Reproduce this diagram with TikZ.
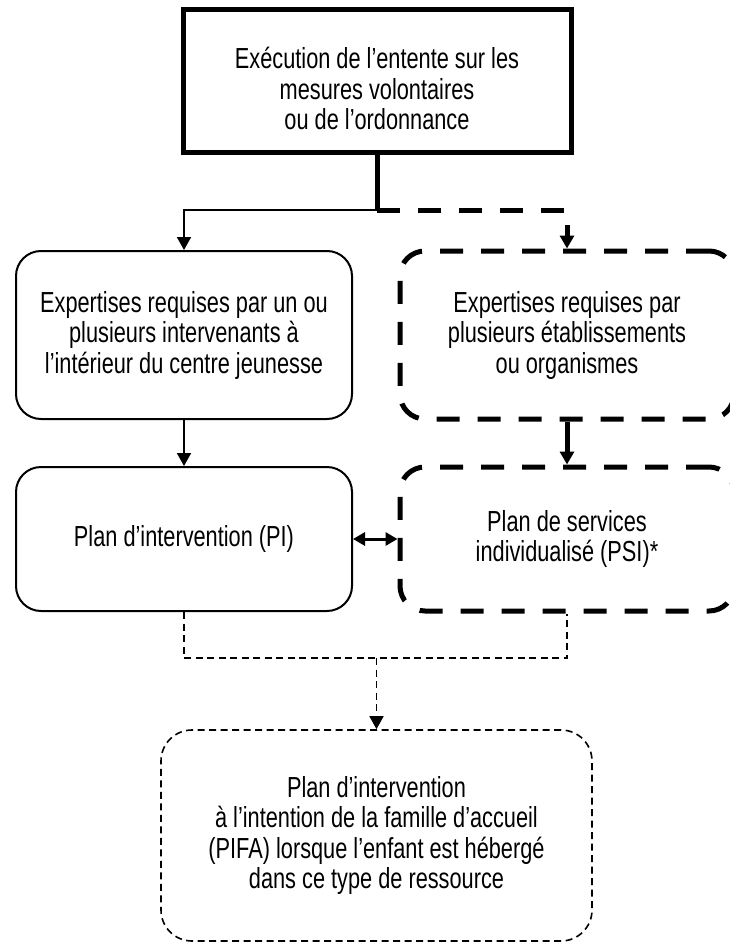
\documentclass[tikz,border=0pt]{standalone}
\usepackage{fontspec}
\setmainfont[FakeStretch=0.75]{Liberation Sans}
\usetikzlibrary{arrows.meta}
\begin{document}
\begin{tikzpicture}[x=1pt,y=-1pt,
  every node/.style={font=\fontsize{29}{30.5}\selectfont, align=center, inner sep=0pt},
  topbox/.style={draw, line width=5pt},
  solidbox/.style={draw, line width=2pt, rounded corners=25pt},
  dashbox/.style={draw, line width=5pt, rounded corners=25pt, dash pattern=on 23pt off 18pt},
  finebox/.style={draw, line width=1.6pt, rounded corners=31pt, dash pattern=on 7pt off 4.5pt},
  tip/.style={-{Triangle[length=13pt,width=14pt]}},
  thinlink/.style={line width=2pt},
  heavylink/.style={line width=5pt},
  heavydash/.style={line width=5pt, dash pattern=on 23pt off 18pt},
  finedash/.style={line width=1.6pt, dash pattern=on 7pt off 4.5pt}]

\useasboundingbox (0,0) rectangle (730,944);

% boxes
\node[topbox, minimum width=388pt, minimum height=143pt,
  label={[name=exectxt, yshift=-7pt]center:{Exécution de l’entente sur les\\mesures volontaires\\ou de l’ordonnance}}]
  (exec) at (377,81.5) {};
\node[solidbox, minimum width=336pt, minimum height=168pt] (exp1) at (184,335)
  {Expertises requises par un ou\\plusieurs intervenants à\\l’intérieur du centre jeunesse};
\node[dashbox, minimum width=334pt, minimum height=168pt] (exp2) at (567,335)
  {Expertises requises par\\plusieurs établissements\\ou organismes};
\node[solidbox, minimum width=336pt, minimum height=144pt] (pi) at (184,539)
  {Plan d’intervention (PI)};
\node[dashbox, minimum width=334pt, minimum height=144pt] (psi) at (567,539)
  {Plan de services\\individualisé (PSI)*};
\node[finebox, minimum width=431pt, minimum height=211pt] (pifa) at (376.5,835.5)
  {Plan d’intervention\\à l’intention de la famille d’accueil\\(PIFA) lorsque l’enfant est hébergé\\dans ce type de ressource};

% connectors
\coordinate (split) at (377,210);
\coordinate (merge) at (376.5,658);
\draw[heavylink] (exec.south) -- (split);
\draw[thinlink, tip] ([xshift=1pt]split) -| (exp1.north);
\draw[heavydash, tip] (split) -| (exp2.north);
\draw[thinlink, tip] (exp1.south) -- (pi.north);
\draw[heavylink, tip] (exp2.south) -- (psi.north);
\draw[line width=3pt, {Triangle[length=12pt,width=13pt]}-{Triangle[length=12pt,width=13pt]}] (pi.east) -- (psi.west);
\draw[finedash] (pi.south) |- (merge) -| (psi.south);
\draw[finedash, tip] (merge) -- (pifa.north);
\end{tikzpicture}
\end{document}
